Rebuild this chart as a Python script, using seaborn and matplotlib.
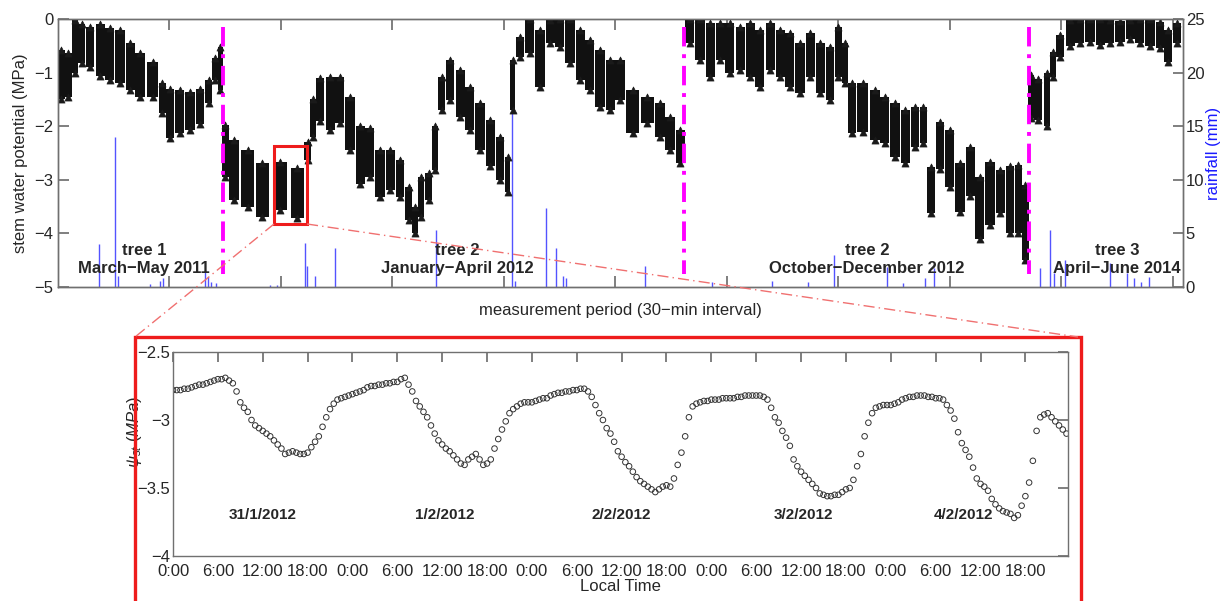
import numpy as np
import pandas as pd
import matplotlib
matplotlib.use("Agg")
import matplotlib.pyplot as plt
import seaborn as sns
from matplotlib.lines import Line2D
from matplotlib.patches import Rectangle

sns.set_theme(style="white")
plt.rcParams['font.family'] = ['Liberation Sans', 'DejaVu Sans']
plt.rcParams['mathtext.fontset'] = 'custom'
plt.rcParams['mathtext.it'] = 'Liberation Sans:italic'
plt.rcParams['mathtext.rm'] = 'Liberation Sans'

# ---------------- top panel data (measurement index, daily envelope) ----------------
tree1_idx = [31, 94, 152, 211, 287, 377, 466, 556, 646, 735, 848, 937, 1005, 1094, 1184, 1274, 1350, 1408, 1457]
tree1_upper = [-0.58, -0.64, -0.02, -0.10, -0.15, -0.10, -0.17, -0.20, -0.45, -0.64, -0.80, -1.20, -1.30, -1.32, -1.36, -1.30, -1.14, -0.73, -0.52]
tree1_lower = [-1.50, -1.45, -1.00, -0.83, -0.90, -1.07, -1.14, -1.20, -1.32, -1.45, -1.45, -1.76, -2.22, -2.13, -2.07, -1.95, -1.57, -1.14, -1.32]

tree2a_idx = [1502, 1579, 1700, 1834, 1991, 2148, 2238, 2287, 2350, 2440, 2529, 2619, 2709, 2798, 2888, 2978,
              3067, 3144, 3202, 3256, 3323, 3381, 3440, 3516, 3606, 3695, 3785, 3875, 3964, 4032, 4077, 4144,
              4233, 4323, 4413, 4502, 4592, 4682, 4771, 4861, 4951, 5040, 5153, 5287, 5399, 5489, 5579]
tree2a_upper = [-1.98, -2.26, -2.44, -2.69, -2.67, -2.78, -2.30, -1.50, -1.10, -1.08, -1.08, -1.45, -2.00, -2.04, -2.44, -2.44,
                -2.63, -3.13, -3.50, -2.94, -2.88, -2.00, -1.08, -0.77, -0.95, -1.26, -1.57, -1.88, -2.20, -2.57, -0.77, -0.33,
                0.00, -0.20, -0.02, 0.00, 0.00, -0.20, -0.39, -0.58, -0.77, -0.77, -1.32, -1.45, -1.57, -1.82, -2.07]
tree2a_lower = [-2.94, -3.37, -3.50, -3.69, -3.56, -3.71, -2.63, -2.20, -1.90, -2.07, -1.94, -2.44, -3.07, -2.94, -3.32, -3.19,
                -3.32, -3.75, -4.00, -3.69, -3.37, -2.81, -1.70, -1.51, -1.82, -2.07, -2.44, -2.75, -3.00, -3.22, -1.70, -0.70,
                -0.64, -1.26, -0.45, -0.52, -0.83, -1.14, -1.32, -1.64, -1.70, -1.51, -2.13, -1.94, -2.20, -2.44, -2.69]

tree2b_idx = [5664, 5758, 5848, 5938, 6027, 6117, 6207, 6296, 6386, 6476, 6565, 6655, 6745, 6835, 6924, 7000, 7059,
              7122, 7216, 7328, 7417, 7507, 7597, 7686, 7762, 7830, 7910, 8000, 8090, 8180, 8269, 8359, 8449, 8538, 8614, 8677]
tree2b_upper = [0.00, 0.00, -0.07, -0.07, -0.07, -0.14, -0.07, -0.20, -0.07, -0.20, -0.26, -0.45, -0.26, -0.45, -0.52, -0.14, -0.45,
                -1.20, -1.20, -1.32, -1.45, -1.57, -1.70, -1.64, -1.64, -2.76, -1.92, -2.07, -2.69, -2.38, -2.95, -2.66, -2.82, -2.75, -2.72, -3.10]
tree2b_lower = [-0.45, -0.77, -1.08, -0.77, -1.01, -0.95, -1.08, -1.26, -0.95, -1.08, -1.26, -1.38, -1.08, -1.38, -1.51, -1.08, -1.20,
                -2.13, -2.10, -2.26, -2.32, -2.57, -2.69, -2.38, -2.32, -3.62, -2.80, -3.13, -3.60, -3.30, -4.10, -3.85, -3.62, -4.00, -4.00, -4.50]

tree3_idx = [8727, 8790, 8870, 8924, 8987, 9077, 9166, 9256, 9346, 9435, 9525, 9615, 9704, 9794, 9884, 9956, 10036]
tree3_upper = [-1.05, -1.12, -1.00, -0.62, -0.30, -0.02, 0.00, 0.00, 0.00, -0.02, -0.04, -0.02, 0.00, 0.00, -0.05, -0.20, -0.08]
tree3_lower = [-1.85, -1.88, -2.00, -1.08, -0.70, -0.50, -0.45, -0.42, -0.48, -0.45, -0.42, -0.38, -0.45, -0.50, -0.55, -0.80, -0.45]

segment_breaks = [1480, 5615, 8709]
seg_labels = ["tree 1\nMarch\u2212May 2011", "tree 2\nJanuary\u2212April 2012",
              "tree 2\nOctober\u2212December 2012", "tree 3\nApril\u2212June 2014"]
seg_label_x = [771, 3579, 7256, 9498]

rain_idx = [368, 511, 538, 825, 915, 942, 1318, 1345, 1372, 1417, 1901, 1964, 2215, 2233, 2305, 2484, 3390,
            4072, 4099, 4377, 4467, 4529, 4556, 5265, 5866, 6404, 6727, 6960, 7435, 7579, 7776, 7857,
            8807, 8897, 8933, 9032, 9435, 9588, 9651, 9713, 9785]
rain_mm = [4.0, 14.0, 1.0, 0.3, 0.6, 0.8, 1.6, 0.9, 0.5, 0.4, 0.2, 0.2, 4.1, 2.0, 1.0, 3.6, 5.3,
           18.6, 0.6, 7.4, 3.6, 1.0, 0.8, 2.0, 0.5, 0.6, 0.5, 3.0, 1.9, 0.4, 0.8, 1.8,
           1.8, 5.3, 1.3, 2.5, 2.2, 1.3, 0.8, 0.5, 0.9]

# ---------------- bottom panel data (30-min, 31/1/2012 - 4/2/2012) ----------------
day1_psi = [-2.78, -2.78, -2.78, -2.77, -2.77, -2.76, -2.75, -2.74, -2.74, -2.73, -2.72, -2.71,
            -2.70, -2.70, -2.69, -2.71, -2.73, -2.79, -2.87, -2.91, -2.94, -3.00, -3.04, -3.06,
            -3.08, -3.10, -3.12, -3.15, -3.18, -3.21, -3.25, -3.24, -3.23, -3.24, -3.25, -3.25,
            -3.24, -3.20, -3.16, -3.12, -3.05, -2.98, -2.92, -2.88, -2.85, -2.84, -2.83, -2.82]
day2_psi = [-2.81, -2.80, -2.79, -2.78, -2.76, -2.75, -2.75, -2.74, -2.74, -2.73, -2.73, -2.72,
            -2.72, -2.70, -2.69, -2.74, -2.79, -2.86, -2.90, -2.94, -2.98, -3.04, -3.10, -3.15,
            -3.18, -3.21, -3.23, -3.26, -3.29, -3.32, -3.33, -3.29, -3.27, -3.25, -3.29, -3.33,
            -3.32, -3.29, -3.21, -3.14, -3.07, -3.01, -2.95, -2.92, -2.90, -2.88, -2.87, -2.87]
day3_psi = [-2.87, -2.86, -2.85, -2.84, -2.84, -2.82, -2.81, -2.80, -2.80, -2.79, -2.79, -2.78,
            -2.78, -2.77, -2.77, -2.79, -2.83, -2.89, -2.95, -3.00, -3.06, -3.10, -3.16, -3.23,
            -3.27, -3.31, -3.34, -3.38, -3.42, -3.45, -3.47, -3.49, -3.51, -3.53, -3.51, -3.49,
            -3.48, -3.49, -3.43, -3.33, -3.24, -3.12, -2.98, -2.90, -2.88, -2.87, -2.86, -2.86]
day4_psi = [-2.85, -2.85, -2.85, -2.84, -2.84, -2.84, -2.84, -2.83, -2.83, -2.82, -2.82, -2.82,
            -2.82, -2.82, -2.83, -2.85, -2.91, -2.98, -3.02, -3.08, -3.13, -3.19, -3.29, -3.34,
            -3.38, -3.41, -3.44, -3.47, -3.50, -3.54, -3.55, -3.56, -3.56, -3.55, -3.55, -3.53,
            -3.51, -3.50, -3.44, -3.34, -3.25, -3.12, -3.02, -2.95, -2.91, -2.90, -2.89, -2.89]
day5_psi = [-2.89, -2.88, -2.87, -2.85, -2.84, -2.83, -2.83, -2.82, -2.82, -2.82, -2.83, -2.83,
            -2.84, -2.84, -2.85, -2.89, -2.93, -2.99, -3.09, -3.17, -3.22, -3.27, -3.35, -3.43,
            -3.47, -3.49, -3.52, -3.58, -3.62, -3.65, -3.67, -3.68, -3.69, -3.72, -3.70, -3.63,
            -3.56, -3.46, -3.30, -3.08, -2.98, -2.96, -2.95, -2.98, -3.01, -3.04, -3.07, -3.10]
date_labels = ["31/1/2012", "1/2/2012", "2/2/2012", "3/2/2012", "4/2/2012"]
date_label_hour = [12, 36.3, 60, 84.3, 105.7]
time_tick_labels = ["0:00", "6:00", "12:00", "18:00"] * 5
zoom_box_idx = [1937, 2233]
zoom_box_psi = [-3.82, -2.37]

# ---------------- build tables ----------------
segs = []
for xi, up, lo in [(tree1_idx, tree1_upper, tree1_lower),
                   (tree2a_idx, tree2a_upper, tree2a_lower),
                   (tree2b_idx, tree2b_upper, tree2b_lower),
                   (tree3_idx, tree3_upper, tree3_lower)]:
    d = pd.DataFrame({"idx": xi, "upper": up, "lower": lo})
    d["width"] = np.minimum(np.gradient(np.asarray(xi, float)), 130) * 0.9
    segs.append(d)
top = pd.concat(segs, ignore_index=True)
psi = day1_psi + day2_psi + day3_psi + day4_psi + day5_psi
bottom = pd.DataFrame({"hour": np.arange(len(psi)) * 0.5, "psi": psi})

W, H = 1223, 601
fig = plt.figure(figsize=(W / 100, H / 100), dpi=100)
fig.patch.set_facecolor("white")
grey = "#707070"

def fx(px):
    return px / W

def fy(py):
    return 1 - py / H

# ---------------- top axes ----------------
ax = fig.add_axes([fx(58), fy(287), fx(1183) - fx(58), fy(19) - fy(287)])
ax2 = ax.twinx()
ax.set_zorder(ax2.get_zorder() + 1)
ax.patch.set_visible(False)

ax2.vlines(rain_idx, 0, rain_mm, colors="#1a1aff", lw=1.0, alpha=0.75)
ax2.set_ylim(0, 25)
ax2.set_yticks([0, 5, 10, 15, 20, 25])
ax2.set_ylabel("rainfall (mm)", color="#1a1aff", fontsize=12, labelpad=1)

ax.bar(top["idx"], top["upper"] - top["lower"], bottom=top["lower"], width=top["width"],
       color="#111111", edgecolor="none")
sns.scatterplot(data=top, x="idx", y="upper", marker="^", color="k", s=26, edgecolor="k", linewidth=0.5, ax=ax)
sns.scatterplot(data=top, x="idx", y="lower", marker="^", color="k", s=26, edgecolor="k", linewidth=0.5, ax=ax)

for xb in segment_breaks:
    ax.plot([xb, xb], [-0.15, -4.75], color="#ff00ff", lw=2.8, ls=(0, (5, 2, 1, 2)))

for lx, lab in zip(seg_label_x, seg_labels):
    ax.text(lx, -4.48, lab, ha="center", va="center", fontsize=12, fontweight="bold", linespacing=1.25)

ax.add_patch(Rectangle((zoom_box_idx[0], zoom_box_psi[0]), zoom_box_idx[1] - zoom_box_idx[0],
                       zoom_box_psi[1] - zoom_box_psi[0], fill=False, ec="#ee1c1c", lw=2.2, zorder=5))

ax.set_xlim(0, 10090)
ax.set_ylim(-5, 0)
ax.set_xticks(np.arange(1000, 10001, 1000))
ax.set_xticklabels([])
ax.set_yticks([-5, -4, -3, -2, -1, 0])
ax.set_ylabel("stem water potential (MPa)", fontsize=12, labelpad=4)
ax.set_xlabel("measurement period (30\u2212min interval)", fontsize=12, labelpad=8)

for a in (ax, ax2):
    for s in a.spines.values():
        s.set_color(grey)
        s.set_linewidth(1.0)
ax.tick_params(axis="both", which="both", direction="in", length=8, color=grey,
               labelsize=12, top=True, bottom=True, left=True, right=False)
ax2.tick_params(axis="y", direction="in", length=7, color=grey, labelsize=12, right=True, pad=2)

# ---------------- bottom axes ----------------
bx = fig.add_axes([fx(173), fy(556), fx(1068) - fx(173), fy(352) - fy(556)])
sns.scatterplot(data=bottom, x="hour", y="psi", marker="o", facecolor="none", edgecolor="#333333",
                s=16, linewidth=0.7, ax=bx)
for hx, lab in zip(date_label_hour, date_labels):
    bx.text(hx, -3.70, lab, ha="center", va="center", fontsize=11, fontweight="bold")
bx.set_xlim(0, 119.7)
bx.set_ylim(-4, -2.5)
bx.set_xticks(np.arange(0, 115, 6))
bx.set_xticklabels(time_tick_labels)
bx.set_yticks([-4, -3.5, -3, -2.5])
bx.set_yticklabels(["\u22124", "\u22123.5", "\u22123", "\u22122.5"])
bx.set_xlabel("Local Time", fontsize=12, labelpad=0)
bx.set_ylabel(r"$\psi_{st}$ $(MPa)$", fontsize=12)
bx.yaxis.set_label_coords(-0.032, 0.61)
for s in bx.spines.values():
    s.set_color(grey)
    s.set_linewidth(1.0)
bx.tick_params(axis="both", direction="in", length=7, color=grey, labelsize=12,
               top=True, right=True)
bx.tick_params(axis="x", pad=6)
bx.tick_params(axis="y", pad=2)

# ---------------- zoom frame & connectors ----------------
fig.add_artist(Rectangle((fx(135), -0.02), fx(1081) - fx(135), fy(337) + 0.02, transform=fig.transFigure,
                         fill=False, ec="#ee1c1c", lw=2.4))
fig.add_artist(Line2D([fx(274), fx(135)], [fy(224), fy(337)], transform=fig.transFigure,
                      color="#f07070", lw=1.0, ls=(0, (8, 3, 1, 3))))
fig.add_artist(Line2D([fx(307), fx(1078)], [fy(224), fy(337)], transform=fig.transFigure,
                      color="#f07070", lw=1.0, ls=(0, (8, 3, 1, 3))))

fig.savefig("out.png", dpi=100, facecolor="white")
